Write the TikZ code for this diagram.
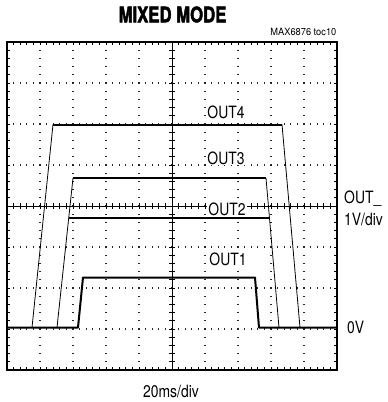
\documentclass[tikz,border=0pt]{standalone}
\usepackage{fontspec}
\setmainfont{TeX Gyre Heros}
\newfontfamily\narrowfont[FakeStretch=0.82]{TeX Gyre Heros}
\newfontfamily\tocfont[FakeStretch=0.93]{TeX Gyre Heros}
\newfontfamily\titlefont[FakeStretch=0.78,FakeBold=2]{TeX Gyre Heros}
\begin{document}
\begin{tikzpicture}[x=1bp,y=-1bp,
  frame/.style={line width=2.4bp},
  axis/.style={line width=0.9bp},
  thin trace/.style={line width=0.8bp,line join=round},
  thick trace/.style={line width=2bp,line join=round},
  lbl/.style={font=\narrowfont\fontsize{17}{18}\selectfont,inner sep=1bp},
  whitelbl/.style={lbl,fill=white},
  dotc/.style={fill=black!85}]
\useasboundingbox (0,0) rectangle (388,402);
% grid dots
\foreach \i in {1,2,3,4,6,7,8,9}{
  \foreach \j in {1,...,39}{
    \fill[dotc] ({7+33*\i-0.65},{42+8.2*\j-0.65}) rectangle +(1.3,1.3);
  }
}
\foreach \k in {1,2,3,5,6,7}{
  \foreach \j in {1,...,49}{
    \fill[dotc] ({7+6.6*\j-0.65},{42+41*\k-0.65}) rectangle +(1.3,1.3);
  }
}
% edge ticks
\foreach \j in {1,...,49}{
  \draw[line width=0.8bp] ({7+6.6*\j},42) -- ++(0,2.8);
  \draw[line width=0.8bp] ({7+6.6*\j},370) -- ++(0,-2.8);
}
\foreach \j in {1,...,39}{
  \draw[line width=0.8bp] (7,{42+8.2*\j}) -- ++(2.8,0);
  \draw[line width=0.8bp] (337,{42+8.2*\j}) -- ++(-2.8,0);
}
% center axes
\draw[axis] (172,42) -- (172,370);
\draw[axis] (7,206) -- (337,206);
\foreach \j in {1,...,39}{
  \draw[line width=0.8bp] (169,{42+8.2*\j}) -- (175,{42+8.2*\j});
}
\foreach \j in {1,...,49}{
  \draw[line width=0.8bp] ({7+6.6*\j},203) -- ({7+6.6*\j},209);
}
% traces
\draw[thin trace] (32,327.5) -- (53,124.5);
\draw[thin trace] (282,124.5) -- (300,327.5);
\draw[thick trace] (53,124.5) -- (282,124.5);
\draw[thin trace] (57,327.5) -- (73,178);
\draw[thin trace] (266,178) -- (279,327.5);
\draw[line width=2.6bp] (73,178) -- (266,178);
\draw[thick trace] (68.8,218) -- (269.5,218);
\draw[thick trace] (7,327.5) -- (78,327.5) -- (83,277.5) -- (255,277.5) -- (259,327.5) -- (337,327.5);
% frame
\draw[frame] (7,42) rectangle (337,370);
% labels
\node[whitelbl] (o4) at (226,112) {OUT4};
\node[whitelbl] (o3) at (226,158) {OUT3};
\node[whitelbl] (o2) at (227,209) {OUT2};
\node[whitelbl] (o1) at (228,259) {OUT1};
\node[lbl,anchor=base west] (outu) at (343,203) {OUT\_};
\node[lbl,anchor=base west] (vdiv) at (343,225) {1V/div};
\node[lbl,anchor=base west] (zv) at (346,333.5) {0V};
\node[lbl] (tdiv) at (171,391) {20ms/div};
\node[font=\titlefont\bfseries\fontsize{21.5}{23}\selectfont,inner sep=0pt] (title) at (172.5,14.5) {MIXED MODE};
\node[font=\tocfont\fontsize{10}{11}\selectfont,inner sep=0pt,anchor=base east] (toc) at (336.5,35.5) {MAX6876 toc10};
\end{tikzpicture}
\end{document}
